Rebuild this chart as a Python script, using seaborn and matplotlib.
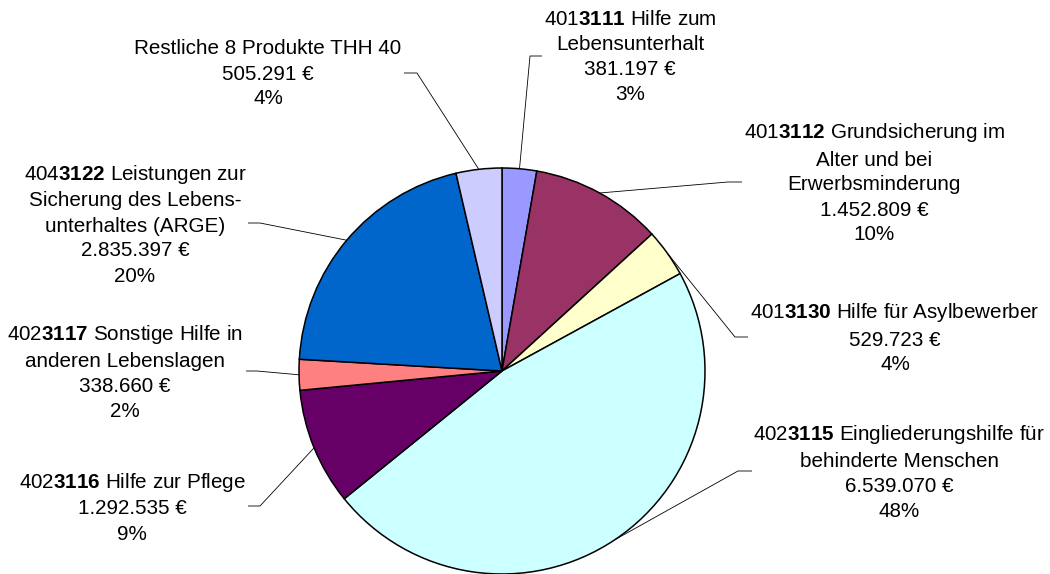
import matplotlib
matplotlib.use("Agg")
import matplotlib.pyplot as plt
import seaborn as sns
import numpy as np

# ---- data ----
prefixes = ["401", "401", "401", "402", "402", "402", "404", ""]
codes = ["3111", "3112", "3130", "3115", "3116", "3117", "3122", ""]
names = [
    " Hilfe zum\nLebensunterhalt",
    " Grundsicherung im\nAlter und bei\nErwerbsminderung",
    " Hilfe für Asylbewerber",
    " Eingliederungshilfe für\nbehinderte Menschen",
    " Hilfe zur Pflege",
    " Sonstige Hilfe in\nanderen Lebenslagen",
    " Leistungen zur\nSicherung des Lebens-\nunterhaltes (ARGE)",
    "Restliche 8 Produkte THH 40",
]
values = [381197, 1452809, 529723, 6539070, 1292535, 338660, 2835397, 505291]
value_labels = ["381.197 €", "1.452.809 €", "529.723 €", "6.539.070 €",
                "1.292.535 €", "338.660 €", "2.835.397 €", "505.291 €"]
pct_labels = ["3%", "10%", "4%", "48%", "9%", "2%", "20%", "4%"]
colors = ["#9999FF", "#993366", "#FFFFCC", "#CCFFFF",
          "#660066", "#FF8080", "#0066CC", "#CCCCFF"]

# label layout (pixel positions in the 1050x574 canvas)
elbows = [(530, 56), (728, 182), (735, 337), (738, 471),
          (260, 506), (257, 371), (260, 223), (417, 73)]
ends = [(542, 56), (742, 182), (748, 337), (752, 471),
        (248, 506), (246, 371), (248, 223), (404, 73)]
text_pos = [(630, 57), (874, 183), (895, 338), (899, 472),
            (132, 507), (125, 372), (135, 224), (268, 74)]

sns.set_theme(style="white")
plt.rcParams["font.family"] = ["Liberation Sans", "DejaVu Sans"]
plt.rcParams["mathtext.fontset"] = "custom"
plt.rcParams["mathtext.rm"] = "Liberation Sans"
plt.rcParams["mathtext.bf"] = "Liberation Sans:bold"
plt.rcParams["mathtext.it"] = "Liberation Sans:italic"

W, H = 1050, 574
CX, CY, R = 502, 371, 203
fig = plt.figure(figsize=(W / 100, H / 100), dpi=100)
fig.patch.set_facecolor("white")
ax = fig.add_axes([(CX - R) / W, (H - CY - R) / H, 2 * R / W, 2 * R / H])
pal = sns.color_palette(colors)

wedges, _ = ax.pie(values, colors=pal, startangle=90, counterclock=False,
                   radius=1.0,
                   wedgeprops=dict(edgecolor="black", linewidth=1.1))
for w in wedges:
    w.set_clip_on(False)
ax.set_xlim(-1, 1)
ax.set_ylim(-1, 1)
ax.axis("off")


def p2d(px, py):
    return ((px - CX) / R, (CY - py) / R)


total = float(sum(values))
cum = 0.0
for i, v in enumerate(values):
    mid = (cum + v / 2) / total
    cum += v
    th = 2 * np.pi * mid
    sx, sy = np.sin(th), np.cos(th)
    ex, ey = p2d(*elbows[i])
    hx, hy = p2d(*ends[i])
    ax.plot([sx, ex, hx], [sy, ey, hy], color="black", lw=0.6,
            clip_on=False, solid_capstyle="butt")
    if codes[i]:
        first, *rest = names[i].split("\n")
        line1 = prefixes[i] + r"$\mathbf{" + codes[i] + "}$" + first
        lines = [line1] + rest
    else:
        lines = [names[i]]
    lines += [value_labels[i], pct_labels[i]]
    tx, ty = p2d(*text_pos[i])
    ax.text(tx, ty, "\n".join(lines), ha="center", va="center",
            multialignment="center", fontsize=14.9, color="black",
            linespacing=1.4, clip_on=False)

fig.savefig("out.png", dpi=100, facecolor="white")
